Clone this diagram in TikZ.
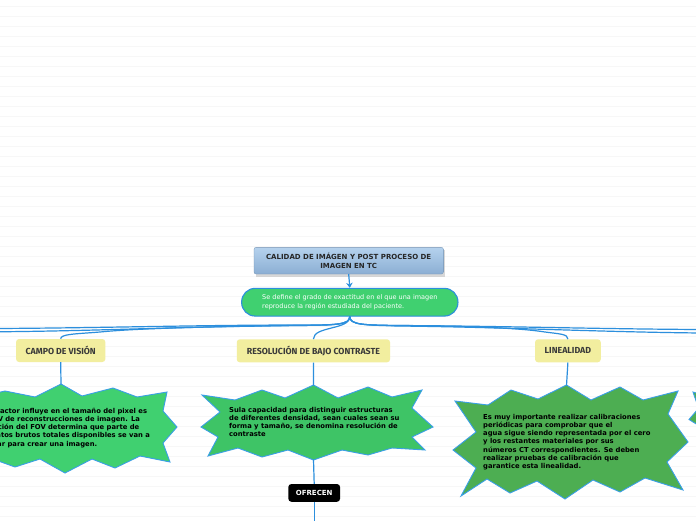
\documentclass[tikz,border=0pt]{standalone}
\usepackage{fontspec}
\setmainfont{DejaVu Sans}
\newfontfamily\firafont{Fira Sans}
\usetikzlibrary{arrows.meta}
\definecolor{lineblue}{HTML}{2C8FDD}
\definecolor{starline}{HTML}{3A9FE6}
\definecolor{pillgreen}{HTML}{40D070}
\definecolor{stargreenA}{HTML}{40D070}
\definecolor{stargreenB}{HTML}{3EC466}
\definecolor{stargreenC}{HTML}{4DAE52}
\definecolor{labelyellow}{HTML}{F2EE9F}
\definecolor{titletop}{HTML}{B5D2EE}
\definecolor{titlebot}{HTML}{8BAED3}
\definecolor{bgline}{HTML}{F7F7F7}
\definecolor{labeltext}{HTML}{3A3A3A}
\tikzset{
  conn/.style={draw=lineblue, line width=1.2pt},
  titlebox/.style={minimum width=189.3pt, minimum height=26.7pt, inner sep=0pt,
    top color=titletop, bottom color=titlebot, draw=titlebot!85!black, line width=0.3pt,
    rounded corners=2pt, align=center, text=black!85,
    font=\fontsize{7}{8.4}\selectfont\bfseries},
  pillbox/.style={minimum width=216.3pt, minimum height=27.7pt, inner sep=0pt,
    fill=pillgreen, draw=lineblue, line width=1.1pt, rounded corners=13.5pt,
    align=left, text=white, font=\fontsize{6.5}{8.3}\selectfont},
  labbox/.style={minimum height=23pt, inner sep=0pt, fill=labelyellow,
    rounded corners=3pt, text=labeltext,
    font=\firafont\bfseries\fontsize{8.8}{10}\selectfont},
  starshape/.style={draw=starline, line width=0.9pt, line join=miter},
  startext/.style={anchor=base west, inner sep=0pt, align=left, text=black,
    font=\fontsize{6.8}{8.3}\selectfont\bfseries},
  ofrbox/.style={minimum width=51.7pt, minimum height=17.7pt, inner sep=0pt,
    fill=black, rounded corners=3pt, text=white,
    font=\fontsize{7}{8}\selectfont\bfseries}
}
\begin{document}
\begin{tikzpicture}[x=1pt,y=-1pt]
\useasboundingbox (0,0) rectangle (696,520);
\clip (0,0) rectangle (696,520);
\fill[white] (0,0) rectangle (696,520);
\foreach \k in {0,...,51} {\draw[bgline, line width=1pt] (0,6+10*\k) -- (696,6+10*\k);}

% title
\fill[black!30, opacity=0.5] (255.5,249.5) rectangle (444.8,276.5);
\node[titlebox] (title) at (348.7,260.7) {CALIDAD DE IMÁGEN Y POST PROCESO DE\\IMAGEN EN TC};

% definition pill
\node[pillbox] (def) at (349.8,302.2) {Se define el grado de exactitud en el que una imagen\\reproduce la región estudiada del paciente.};
\draw[conn, -{Stealth[length=5pt,width=6.5pt]}] (title.south) -- (def.north);

% labels
\node[labbox, minimum width=89.3pt] (campo) at (60.7,350.5) {CAMPO DE VISIÓN};
\node[labbox, minimum width=153.3pt] (reso) at (313.4,350.8) {RESOLUCIÓN DE BAJO CONTRASTE};
\node[labbox, minimum width=65.7pt] (lin) at (567.9,350.8) {LINEALIDAD};

% off-canvas ends
\coordinate (offL1) at (-5,328.5);
\coordinate (offL2) at (-5,331.8);
\coordinate (offR1) at (701,329.5);
\coordinate (offR2) at (701,333);

% connectors from the definition
\draw[conn] (def.south) .. controls (349.8,325) and (335,325) .. (300,325.5)
  .. controls (220,326.5) and (140,328) .. (100,332)
  .. controls (75,334) and (60.7,334) .. (campo.north);
\draw[conn] (def.south) .. controls (349.8,325) and (335,325) .. (300,325)
  .. controls (200,325) and (100,328) .. (offL1);
\draw[conn] (def.south) .. controls (349.8,325) and (335,325) .. (300,325.5)
  .. controls (200,326) and (100,331) .. (offL2);
\draw[conn] (def.south) .. controls (349.8,330) and (313.4,326) .. (reso.north);
\draw[conn] (def.south) .. controls (349.8,325) and (364,325) .. (398,325.5)
  .. controls (470,326) and (520,328) .. (545,332)
  .. controls (560,334) and (567.9,334) .. (lin.north);
\draw[conn] (def.south) .. controls (349.8,325) and (364,325) .. (398,325.5)
  .. controls (500,326) and (600,329) .. (offR1);
\draw[conn] (def.south) .. controls (349.8,325) and (364,325) .. (398,326)
  .. controls (500,327) and (600,332) .. (offR2);

% star 1 (campo)
\filldraw[starshape, fill=stargreenA] (-60,428) -- (-45,412) -- (-55,393) -- (-25,398) -- (5,391) -- (35,397)
  -- (61,384) -- (82,396) -- (113,388) -- (137,397) -- (167,392) -- (163,411) -- (177,427) -- (163,443)
  -- (170,462) -- (140,456) -- (115,468) -- (92,459) -- (65,473) -- (40,459) -- (15,467) -- (-10,458)
  -- (-45,465) -- (-40,445) -- cycle;
\coordinate (campoTop) at (61,384.5);
% star 2 (resolucion)
\filldraw[starshape, fill=stargreenB] (202,395) -- (235,400) -- (262,390) -- (285,398) -- (313.5,385)
  -- (338,398) -- (368,387) -- (392,397) -- (422,390) -- (412,408) -- (433,427) -- (412,437) -- (425,450)
  -- (392,448) -- (368,455) -- (342,450) -- (313.5,460) -- (288,450) -- (262,457) -- (238,448)
  -- (208,456) -- (218,437) -- (201,427) -- (220,412) -- cycle;
\coordinate (resoTop) at (313.5,385.5);
\coordinate (resoBot) at (313.5,459.5);
% star 3 (linealidad)
\filldraw[starshape, fill=stargreenC] (455,401) -- (488,405) -- (511,390) -- (538,399) -- (566.5,385)
  -- (591,400) -- (620,387) -- (643,400) -- (678,391) -- (668,414) -- (688,442) -- (667,462) -- (683,490)
  -- (645,478) -- (620,492) -- (593,480) -- (565,499) -- (537,481) -- (510,493) -- (487,479)
  -- (461,496) -- (476,468) -- (453,450) -- (476,432) -- cycle;
\coordinate (linTop) at (566.5,385.5);
% star 4 (partial, right edge)
\filldraw[starshape, fill=stargreenC] (693,392) -- (706,396) -- (698,409) -- (689,419.5) -- (706,430) -- cycle;

% label to star connectors
\draw[conn] (campo.south) -- (campoTop);
\draw[conn] (reso.south) -- (resoTop);
\draw[conn] (lin.south) -- (linTop);

% star texts (anchor is the baseline of the last line)
\node[startext] (campotext) at (-22,446.2) {Este factor influye en el tamaño del pixel es\\el FOV de reconstrucciones de imagen. La\\selección del FOV determina que parte de\\los datos brutos totales disponibles se van a\\utilizar para crear una imagen.};
\node[startext] (resotext) at (229,436.9) {Sula capacidad para distinguir estructuras\\de diferentes densidad, sean cuales sean su\\forma y tamaño, se denomina resolución de\\contraste};
\node[startext] (lintext) at (483,468.8) {Es muy importante realizar calibraciones\\periódicas para comprobar que el\\agua sigue siendo representada por el cero\\y los restantes materiales por sus\\números CT correspondientes. Se deben\\realizar pruebas de calibración que\\garantice esta linealidad.};

% ofrecen
\node[ofrbox] (ofr) at (314.2,492.9) {OFRECEN};
\coordinate (bottomOut) at (314.2,525);
\draw[conn] (resoBot) -- (ofr.north);
\draw[conn] (ofr.south) -- (bottomOut);
\end{tikzpicture}
\end{document}
